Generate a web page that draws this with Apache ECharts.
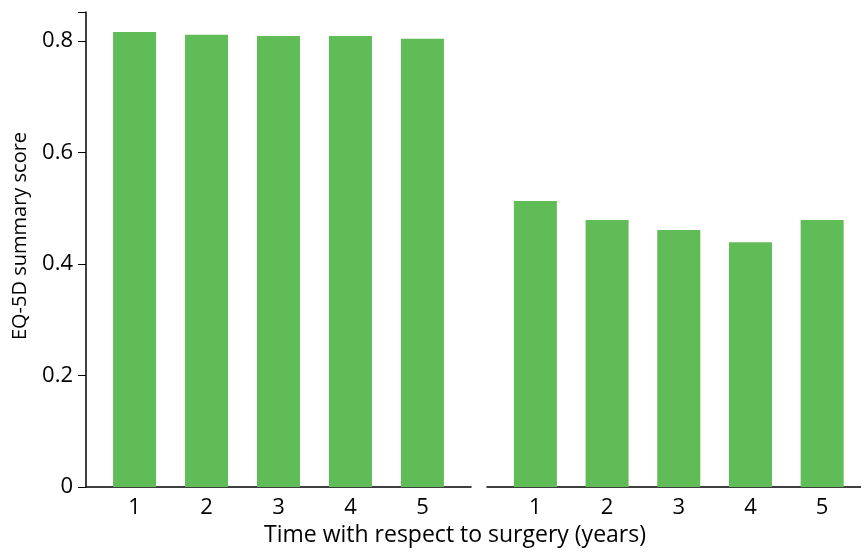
<!DOCTYPE html>
<html>
<head>
<meta charset="utf-8">
<script src="https://cdn.jsdelivr.net/npm/echarts@6/dist/echarts.min.js"></script>
<style>
  html, body { margin: 0; padding: 0; background: #fff; }
  #chart { width: 861px; height: 552px; }
</style>
</head>
<body>
<div id="chart"></div>
<script>
// years after surgery, shown in both panels
var years = [1, 2, 3, 4, 5];
var leftScores = [0.816, 0.811, 0.809, 0.809, 0.804];
var rightScores = [0.513, 0.479, 0.461, 0.439, 0.479];
var yTicks = [0, 0.2, 0.4, 0.6, 0.8];

var font = 'Open Sans';
var green = '#60bc56';

var chartDom = document.getElementById('chart');
var myChart = echarts.init(chartDom, null, { devicePixelRatio: 1 });

function toPairs(vals) {
	return years.map(function (y, i) { return [y, vals[i]]; });
}

var xCommon = {
	type: 'value',
	min: 0.325,
	splitLine: { show: false },
	axisTick: { show: false },
	axisLine: { show: true, lineStyle: { color: '#000', width: 1.5 } },
	axisLabel: {
		customValues: years,
		color: '#000',
		fontFamily: font,
		fontSize: 22,
		margin: 10
	}
};

var option = {
	animation: false,
	title: {
		text: 'Time with respect to surgery (years)',
		left: 450,
		top: 519,
		textAlign: 'center',
		textStyle: { fontFamily: font, fontSize: 23, fontWeight: 'normal', color: '#000' }
	},
	graphic: [
		{
			// y axis title, sits a bit above the axis middle in the original
			type: 'text',
			x: 20,
			y: 236,
			rotation: Math.PI / 2,
			style: {
				text: 'EQ-5D summary score',
				fontFamily: font,
				fontSize: 20,
				fill: '#000',
				align: 'center',
				verticalAlign: 'middle'
			}
		}
	],
	grid: [
		{ left: 86, right: 390, top: 12, bottom: 65 },
		{ left: 487, right: 0, top: 12, bottom: 65 }
	],
	xAxis: [
		Object.assign({}, xCommon, { gridIndex: 0, max: 5.675 }),
		Object.assign({}, xCommon, { gridIndex: 1, max: 5.542 })
	],
	yAxis: [
		{
			gridIndex: 0,
			type: 'value',
			min: 0,
			max: 0.852,
			interval: 0.2,
			splitLine: { show: false },
			axisLine: { show: true, lineStyle: { color: '#000', width: 1.5 } },
			axisTick: { show: true, length: 8, lineStyle: { color: '#000' } },
			axisLabel: {
				customValues: yTicks,
				color: '#000',
				fontFamily: font,
				fontSize: 22,
				margin: 13
			}
		},
		{
			gridIndex: 1,
			type: 'value',
			min: 0,
			max: 0.852,
			show: false
		}
	],
	series: [
		{
			type: 'bar',
			xAxisIndex: 0,
			yAxisIndex: 0,
			barWidth: 43,
			itemStyle: { color: green },
			data: toPairs(leftScores)
		},
		{
			type: 'bar',
			xAxisIndex: 1,
			yAxisIndex: 1,
			barWidth: 43,
			itemStyle: { color: green },
			data: toPairs(rightScores)
		}
	]
};

option && myChart.setOption(option);
</script>
</body>
</html>
